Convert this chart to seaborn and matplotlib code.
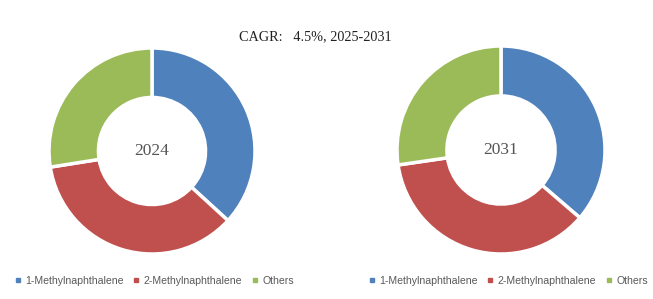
import matplotlib
matplotlib.use("Agg")
import matplotlib.pyplot as plt
from matplotlib.lines import Line2D
import seaborn as sns
import pandas as pd

categories = ["1-Methylnaphthalene", "2-Methylnaphthalene", "Others"]
share_2024 = [36.8, 35.7, 27.5]
share_2031 = [36.3, 36.4, 27.3]
years = ["2024", "2031"]
title = "CAGR:   4.5%, 2025-2031"

sns.set_style("white")
plt.rcParams["font.family"] = ["DejaVu Sans"]
colors = ["#4F81BD", "#C0504D", "#9BBB59"]

df = pd.DataFrame({"category": categories, "2024": share_2024, "2031": share_2031})

fig = plt.figure(figsize=(6.53, 2.99), dpi=100)
fig.patch.set_facecolor("white")

axes_rects = [
    [49 / 653, (299 - 254) / 299, 206 / 653, 206 / 299],
    [397 / 653, (299 - 254) / 299, 208 / 653, 208 / 299],
]

for rect, yr in zip(axes_rects, years):
    ax = fig.add_axes(rect)
    ax.pie(df[yr], colors=colors, startangle=90, counterclock=False,
           radius=1.0,
           wedgeprops=dict(width=0.48, edgecolor="white", linewidth=2.5))
    ax.set_xlim(-1.0, 1.0)
    ax.set_ylim(-1.0, 1.0)
    ax.set_aspect("equal")
    ax.axis("off")
    ax.text(0, 0, yr, ha="center", va="center", fontsize=12.5,
            family=["Liberation Serif"], color="#555555")

fig.text(315 / 653, 1 - 37 / 299, title, ha="center", va="center",
         fontsize=10.3, family=["Liberation Serif"], color="#222222")

handles = [Line2D([0], [0], marker="s", linestyle="", markersize=3.5,
                  markerfacecolor=c, markeredgecolor=c) for c in colors]

for cx in [154 / 653, 508 / 653]:
    fig.legend(handles, categories, loc="center", bbox_to_anchor=(cx, 1 - 281 / 299),
               ncol=3, frameon=False, handlelength=0.6,
               handletextpad=0.4, columnspacing=0.9, labelcolor="#595959",
               prop={"family": "Liberation Sans", "size": 7.6})

fig.savefig("out.png", dpi=100, facecolor="white")
